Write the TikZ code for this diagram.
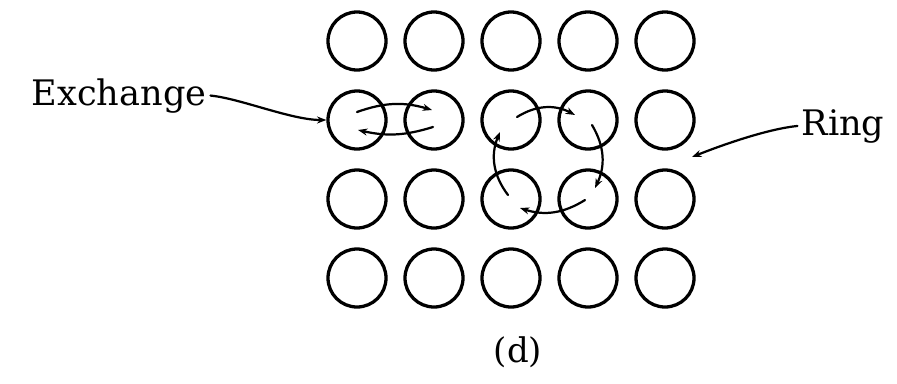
\documentclass[tikz,border=0pt]{standalone}
\usepackage{fontspec}
\setmainfont{DejaVu Serif}
\usetikzlibrary{arrows.meta,calc}
\begin{document}
\begin{tikzpicture}[x=0.03cm, y=-0.03cm, line cap=round,
  atom/.style={draw, circle, line width=2.8pt, minimum size=1.74cm, inner sep=0pt},
  hop/.style={line width=1.9pt, -{Stealth[length=8pt,width=6pt]}},
  lbl/.style={font=\fontsize{30}{36}\selectfont}]
  \useasboundingbox (0,0) rectangle (897,383);
  \foreach \r/\y in {1/41,2/120,3/199,4/278}
    \foreach \c/\x in {1/357,2/434,3/511,4/588,5/665}
      \node[atom] (a\r\c) at (\x,\y) {};
  \node[lbl, anchor=base] (exch) at (119,105) {Exchange};
  \node[lbl, anchor=base] (ring) at (843,135) {Ring};
  \node[font=\fontsize{29}{34}\selectfont] (cap) at (518,352) {(d)};
  \coordinate (ringtip) at (692,157);
  \draw[hop] (exch.east) .. controls +(30,3) and +(-35,0) .. (a21.west);
  \draw[hop] (ring.west) .. controls +(-30,3) and +(30,-12) .. (ringtip);
  \draw[hop] ($(a21)+(0,-8)$) to[bend left=18] ($(a22)+(-2,-10)$);
  \draw[hop] ($(a22)+(-1,7)$) to[bend left=15] ($(a21)+(1,10)$);
  \draw[hop] ($(a23)+(6,-3)$) to[bend left=30] ($(a24)+(-13,-5)$);
  \draw[hop] ($(a24)+(4,5)$) to[bend left=28] ($(a34)+(7,-11)$);
  \draw[hop] ($(a34)+(-3,1)$) to[bend left=25] ($(a33)+(9,9)$);
  \draw[hop] ($(a33)+(-3,-4)$) to[bend left=30] ($(a23)+(-11,12)$);
\end{tikzpicture}
\end{document}
